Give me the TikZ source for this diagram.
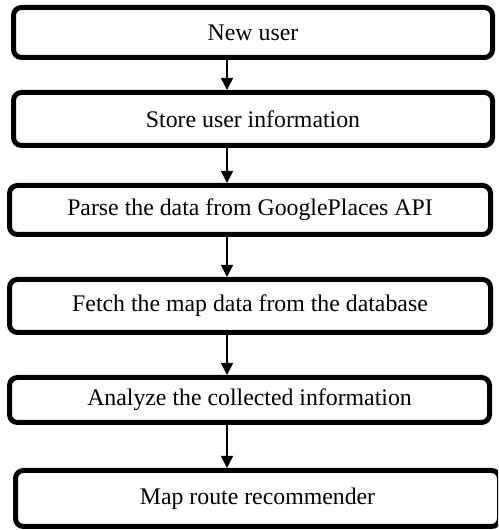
\documentclass[tikz,border=0pt]{standalone}
\usepackage{fontspec}
\setmainfont{Liberation Serif}
\usetikzlibrary{arrows.meta}
\tikzset{
  stepbox/.style={draw=black, line width=5pt, rounded corners=8pt, inner sep=0pt,
    font=\fontsize{23.8}{28}\selectfont, text=black},
  arr/.style={line width=1.5pt, -{Triangle[width=12pt,length=12pt]}}
}
\begin{document}
\begin{tikzpicture}[x=1pt,y=1pt]
\useasboundingbox (0,0) rectangle (498,530);
\clip (0,0) rectangle (498,530);
\node[stepbox, minimum width=479pt, minimum height=50pt] (n1) at (253,497.5) {New user};
\node[stepbox, minimum width=479pt, minimum height=53pt] (n2) at (253,411) {Store user information};
\node[stepbox, minimum width=481pt, minimum height=49pt] (n3) at (250,320) {Parse the data from GooglePlaces API};
\node[stepbox, minimum width=481pt, minimum height=53pt] (n4) at (250,224) {Fetch the map data from the database};
\node[stepbox, minimum width=480pt, minimum height=45pt] (n5) at (249.5,130) {Analyze the collected information};
\node[stepbox, minimum width=484pt, minimum height=56pt] (n6) at (257.5,31.5) {Map route recommender};
\coordinate (ax) at (227,0);
\draw[arr] (n1.south -| ax) -- (n2.north -| ax);
\draw[arr] (n2.south -| ax) -- (n3.north -| ax);
\draw[arr] (n3.south -| ax) -- (n4.north -| ax);
\draw[arr] (n4.south -| ax) -- (n5.north -| ax);
\draw[arr] (n5.south -| ax) -- (n6.north -| ax);
\end{tikzpicture}
\end{document}
